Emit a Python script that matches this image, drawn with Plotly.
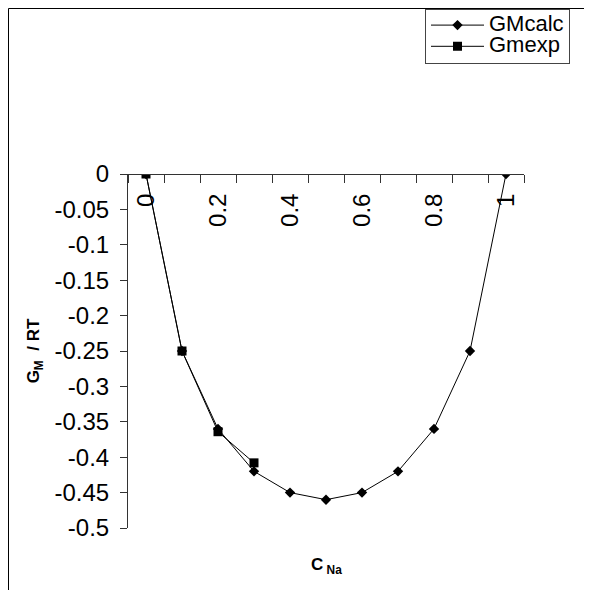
import plotly.graph_objects as go

# ---- data ----
c_na = [0, 0.1, 0.2, 0.3, 0.4, 0.5, 0.6, 0.7, 0.8, 0.9, 1.0]
gm_calc = [0, -0.25, -0.36, -0.42, -0.45, -0.46, -0.45, -0.42, -0.36, -0.25, 0]
c_na_exp = [0, 0.1, 0.2, 0.3]
gm_exp = [0, -0.25, -0.364, -0.408]

x_tickvals = [0, 0.2, 0.4, 0.6, 0.8, 1.0]
x_ticktext = ["0", "0.2", "0.4", "0.6", "0.8", "1"]
x_boundaries = [-0.05, 0.05, 0.15, 0.25, 0.35, 0.45, 0.55, 0.65, 0.75, 0.85, 0.95, 1.05]
y_tickvals = [0, -0.05, -0.1, -0.15, -0.2, -0.25, -0.3, -0.35, -0.4, -0.45, -0.5]
y_ticktext = ["0", "-0.05", "-0.1", "-0.15", "-0.2", "-0.25", "-0.3", "-0.35", "-0.4", "-0.45", "-0.5"]
series_names = ["GMcalc", "Gmexp"]

FONT = "Arial, Liberation Sans, sans-serif"
# the page body has an 8px default margin; the figure is sized to fit the window
OFF = 8
W, H = 592 - OFF, 590 - OFF
# plot area in window pixels: x 128..524, y 174..528
L, R, T, B = 128 - OFF, 592 - 524, 174 - OFF, 590 - 528
pw, ph = W - L - R, H - T - B

def px_x(p):  # window pixel -> paper x
    return (p - OFF - L) / pw

def px_y(p):  # window pixel -> paper y
    return (H - B - (p - OFF)) / ph

def legend_name(s):
    return '<span style="font-size:22px">' + s + '</span>'

fig = go.Figure()
fig.add_trace(go.Scatter(
    x=c_na, y=gm_calc, name=legend_name(series_names[0]), mode="lines+markers",
    line=dict(color="black", width=1),
    marker=dict(symbol="diamond", size=8, color="black"),
))
fig.add_trace(go.Scatter(
    x=c_na_exp, y=gm_exp, name=legend_name(series_names[1]), mode="lines+markers",
    line=dict(color="black", width=1),
    marker=dict(symbol="square", size=9, color="black"),
))

fig.update_layout(
    width=W, height=H,
    margin=dict(l=L, r=R, t=T, b=B, autoexpand=False),
    paper_bgcolor="white", plot_bgcolor="white",
    font=dict(family=FONT, color="black", size=24),
    showlegend=True,
    legend=dict(
        x=px_x(570), xanchor="right", y=px_y(8.5), yanchor="top",
        bordercolor="#444", borderwidth=1, bgcolor="white",
        font=dict(family=FONT, size=14, color="black"),
        itemwidth=53,
    ),
    xaxis=dict(
        range=[-0.05, 1.05], anchor="free", position=1, side="bottom",
        showgrid=False, zeroline=False, automargin=False,
        showline=True, linecolor="#333", linewidth=1,
        tickvals=x_tickvals, ticktext=x_ticktext, ticks="",
        tickangle=-90, ticklabelstandoff=9,
        tickfont=dict(family=FONT, size=24, color="black"),
        minor=dict(tickvals=x_boundaries, ticks="outside", ticklen=8,
                   tickcolor="#333", showgrid=False),
    ),
    yaxis=dict(
        range=[-0.5, 0], showgrid=False, zeroline=False, automargin=False,
        showline=True, linecolor="#333", linewidth=1,
        tickvals=y_tickvals, ticktext=y_ticktext,
        ticks="outside", ticklen=7, tickcolor="#333",
        ticklabelstandoff=6,
        tickfont=dict(family=FONT, size=24, color="black"),
        title=dict(text="<b>G<sub>M</sub>\u00a0\u00a0/ RT</b>",
                   font=dict(family=FONT, size=17, color="black"), standoff=10),
    ),
    shapes=[dict(type="rect", xref="paper", yref="paper",
                 x0=px_x(8.5), x1=px_x(640), y0=px_y(640), y1=px_y(8.5),
                 line=dict(color="black", width=1), fillcolor="rgba(0,0,0,0)",
                 layer="below")],
    annotations=[dict(text="<b>C<sub> Na</sub></b>", xref="paper", yref="paper",
                      x=0.5, y=px_y(566), xanchor="center", yanchor="middle",
                      showarrow=False, font=dict(family=FONT, size=17, color="black"))],
)

fig.write_html("out.html")
